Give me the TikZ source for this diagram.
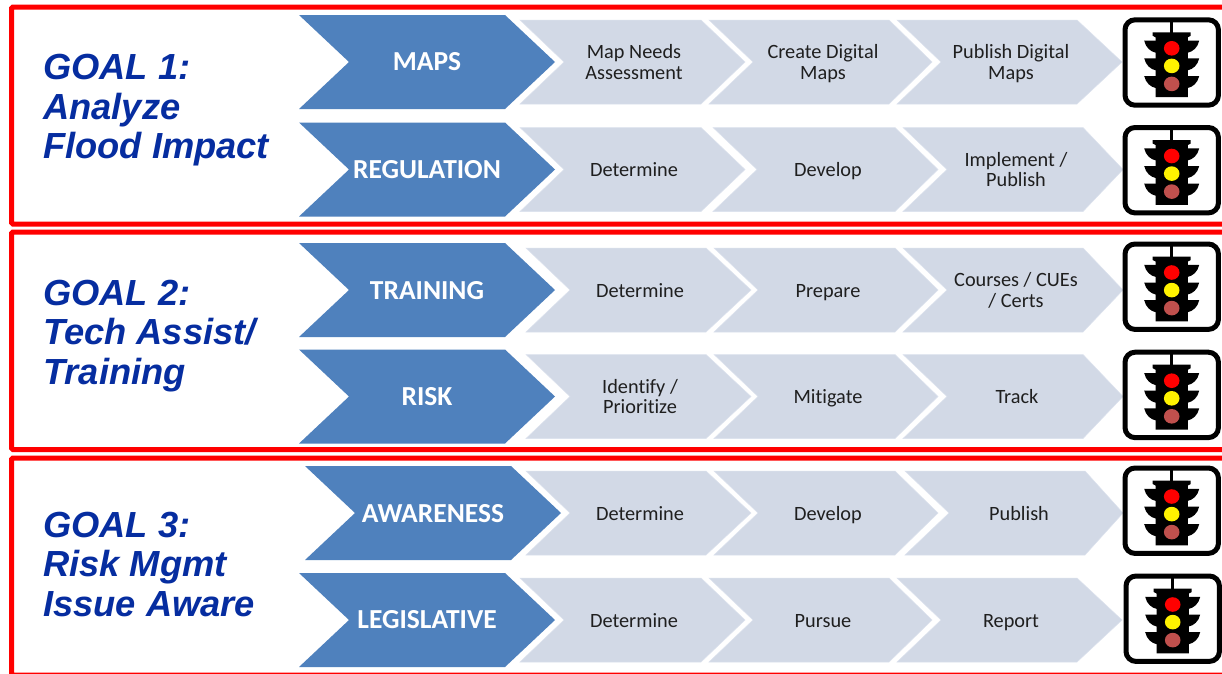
\documentclass[tikz,border=0pt]{standalone}
\usepackage{fontspec}
\setmainfont[Ligatures=NoCommon]{Carlito}
\newfontfamily\goalfont{Liberation Sans}
\definecolor{darkblue}{RGB}{79,129,189}
\definecolor{lightblue}{RGB}{210,217,230}
\definecolor{lightedge}{RGB}{220,226,238}
\definecolor{goalblue}{RGB}{6,45,160}
\definecolor{lampbrown}{RGB}{192,80,77}
\tikzset{
  frame/.style={draw=red,line width=5pt,rounded corners=1.5pt},
  headchev/.style={fill=darkblue,draw=none},
  stepchev/.style={fill=lightblue,draw=lightedge,line width=.5pt,line join=miter},
  headlabel/.style={text=white,font=\fontsize{27.5}{30}\selectfont\bfseries,inner sep=0pt},
  steplabel/.style={text=black!88,font=\fontsize{20.3}{20.6}\selectfont,align=center,inner sep=0pt,
    execute at begin node=\strut,execute at end node=\strut},
  goallabel/.style={text=goalblue,font=\goalfont\fontsize{36.3}{39.5}\selectfont\bfseries\itshape,align=left,anchor=west,inner sep=0pt},
  lampbox/.style={draw=black,fill=white,line width=5pt,rounded corners=10pt},
}
\newcommand\headc[5]{% name, x, yc, text
  \begin{scope}[shift={(#2,#3)}]
    \path[headchev] (0,-47) -- (206,-47) -- (256,0) -- (206,47) -- (0,47) -- (50,0) -- cycle;
    \node[headlabel] (#1) at (128,#5) {#4};
  \end{scope}}
\newcommand\stepc[7]{% name,left,yc,topright,tip,textoffset,text
  \begin{scope}[shift={(#2,#3)}]
    \path[stepchev] (0,-42) -- (#4,-42) -- (#5,0) -- (#4,42) -- (0,42) -- (44,0) -- cycle;
    \node[steplabel] (#1) at (#6,3) {#7};
  \end{scope}}
\newcommand\tlight[3]{% name, cx, top
  \begin{scope}[shift={(#2,#3)}]
    \path[lampbox] (-46.7,2.5) rectangle (46.7,87.9);
    \fill[black] (-1.6,2) rectangle (1.6,16);
    \fill[black] (-19,15) -- (19,15) -- (19,18.5) -- (16.2,20) -- (16.2,79.8) -- (-16.2,79.8) -- (-16.2,20) -- (-19,18.5) -- cycle;
    \foreach \w in {23.4,41,58.7}{
      \fill[black] (-27.5,\w) -- (27.5,\w) .. controls (26,\w+7) and (21,\w+11) .. (16,\w+12) -- (-16,\w+12) .. controls (-21,\w+11) and (-26,\w+7) .. cycle;
    }
    \fill[red] (0,31) ellipse [x radius=7.8,y radius=7.3];
    \fill[yellow] (0,48.6) ellipse [x radius=7.8,y radius=7.3];
    \fill[lampbrown] (0,66.6) ellipse [x radius=7.8,y radius=7.3];
    \coordinate (#1) at (0,45);
  \end{scope}}
\begin{document}
\begin{tikzpicture}[x=1pt,y=-1pt]
\clip (0,0) rectangle (1222,673);
\fill[white] (0,0) rectangle (1222,673);
% red frames
\path[frame] (11.5,7) rectangle (1232,224);
\path[frame] (11.5,232) rectangle (1232,449.5);
\path[frame] (11.5,458) rectangle (1232,675);
% goals
\node[goallabel] (g1) at (43,110.5) {GOAL 1:\\Analyze\\Flood Impact};
\node[goallabel] (g2) at (43,336) {GOAL 2:\\Tech Assist/\\Training};
\node[goallabel] (g3) at (43,564) {GOAL 3:\\Risk Mgmt\\Issue Aware};
% row 1
\headc{h1}{299}{62}{MAPS}{0}
\stepc{a1}{520}{62}{181}{225}{114}{Map Needs\\Assessment}
\stepc{b1}{709}{62}{180}{223}{114}{Create Digital\\Maps}
\stepc{c1}{897}{62}{180}{225}{114}{Publish Digital\\Maps}
% row 2
\headc{h2}{299}{169.5}{REGULATION}{0}
\stepc{a2}{520}{169.5}{181}{225}{114}{Determine}
\stepc{b2}{713}{169.5}{182}{225}{115}{Develop}
\stepc{c2}{903}{169.5}{180}{220}{113}{Implement /\\Publish}
% row 3
\headc{h3}{299}{290}{TRAINING}{.6}
\stepc{a3}{526}{290}{180}{225}{114}{Determine}
\stepc{b3}{714}{290}{181}{224}{114}{Prepare}
\stepc{c3}{903}{290}{180}{220}{113}{Courses / CUEs\\/ Certs}
% row 4
\headc{h4}{299}{396.5}{RISK}{0}
\stepc{a4}{526}{396.5}{180}{225}{114}{Identify /\\Prioritize}
\stepc{b4}{714}{396.5}{181}{224}{114}{Mitigate}
\stepc{c4}{903}{396.5}{180}{220}{114}{Track}
% row 5
\headc{h5}{305}{513}{AWARENESS}{.6}
\stepc{a5}{526}{513}{180}{225}{114}{Determine}
\stepc{b5}{714}{513}{181}{224}{114}{Develop}
\stepc{c5}{905}{513}{180}{218}{114}{Publish}
% row 6
\headc{h6}{299}{620}{LEGISLATIVE}{0}
\stepc{a6}{520}{620}{181}{225}{114}{Determine}
\stepc{b6}{709}{620}{180}{223}{114}{Pursue}
\stepc{c6}{897}{620}{180}{225}{114}{Report}
% traffic lights
\tlight{t1}{1171.7}{17.3}
\tlight{t2}{1171.7}{125}
\tlight{t3}{1171.7}{241.5}
\tlight{t4}{1171.7}{349.7}
\tlight{t5}{1171.7}{465.5}
\tlight{t6}{1172.7}{573.5}
\end{tikzpicture}
\end{document}
